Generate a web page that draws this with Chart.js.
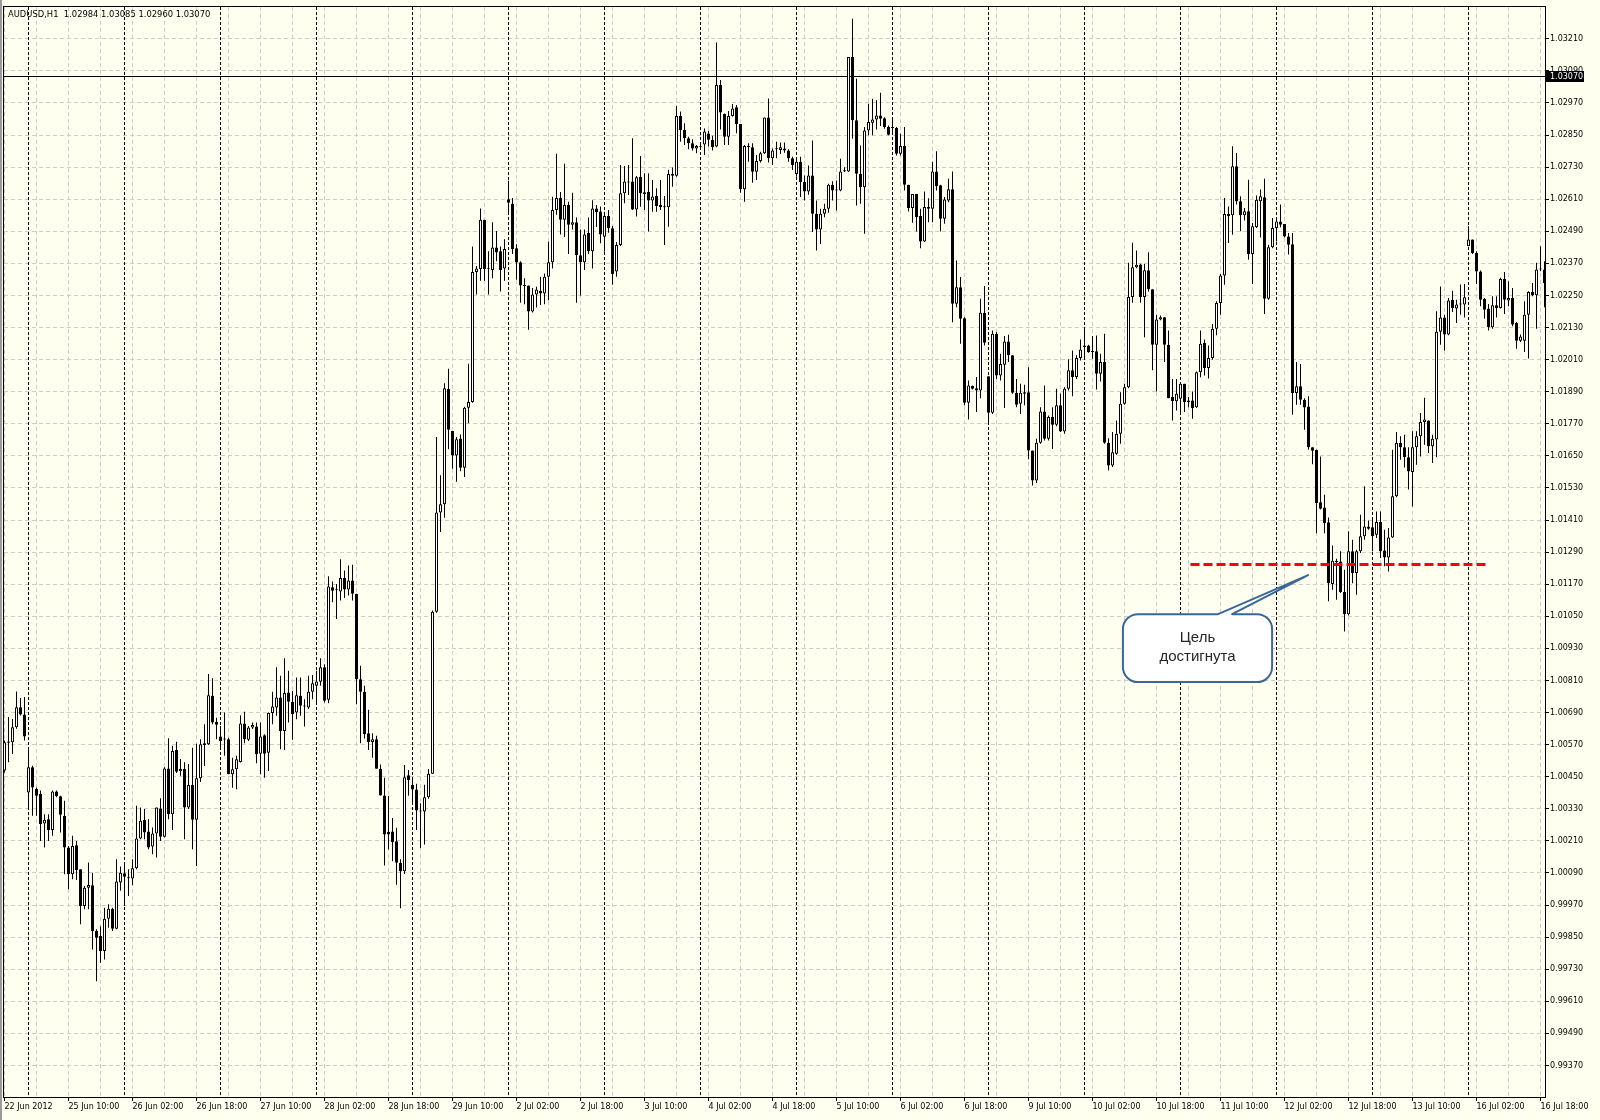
<!DOCTYPE html>
<html>
<head>
<meta charset="utf-8">
<title>AUDUSD,H1</title>
<script src="https://cdn.jsdelivr.net/npm/chart.js@4.4.1/dist/chart.umd.min.js"></script>
<style>
  html, body { margin: 0; padding: 0; background: #fffff0; }
  canvas { display: block; }
</style>
</head>
<body>
<canvas id="chart" width="1600" height="1120"></canvas>
<script>
// AUDUSD H1 bars, 22 Jun 2012 18:00 .. 16 Jul 2012 19:00
var opens = [
  1.00473, 1.00577, 1.00579, 1.00635, 1.00710, 1.00683, 1.00391, 1.00485, 1.00404, 1.00385,
  1.00275, 1.00291, 1.00251, 1.00395, 1.00377, 1.00304, 1.00185, 1.00085, 1.00194, 1.00104,
  0.99966, 1.00035, 1.00044, 0.99873, 0.99854, 0.99798, 0.99919, 0.99956, 0.99881, 1.00054,
  1.00089, 1.00072, 1.00069, 1.00108, 1.00219, 1.00288, 1.00245, 1.00189, 1.00238, 1.00331,
  1.00225, 1.00481, 1.00310, 1.00550, 1.00470, 1.00479, 1.00335, 1.00419, 1.00289, 1.00444,
  1.00569, 1.00571, 1.00753, 1.00655, 1.00600, 1.00590, 1.00590, 1.00459, 1.00478, 1.00505,
  1.00649, 1.00588, 1.00634, 1.00638, 1.00536, 1.00605, 1.00540, 1.00688, 1.00709, 1.00746,
  1.00621, 1.00765, 1.00730, 1.00690, 1.00753, 1.00715, 1.00709, 1.00768, 1.00790, 1.00805,
  1.00859, 1.00738, 1.01159, 1.01149, 1.01143, 1.01193, 1.01150, 1.01184, 1.01134, 1.00815,
  1.00768, 1.00613, 1.00580, 1.00590, 1.00480, 1.00380, 1.00243, 1.00245, 1.00209, 1.00128,
  1.00096, 1.00455, 1.00419, 1.00402, 1.00324, 1.00320, 1.00373, 1.00461, 1.01067, 1.01438,
  1.01469, 1.01900, 1.01743, 1.01651, 1.01715, 1.01606, 1.01830, 1.01852, 1.02338, 1.02349,
  1.02533, 1.02351, 1.02345, 1.02429, 1.02415, 1.02351, 1.02610, 1.02593, 1.02427, 1.02374,
  1.02287, 1.02287, 1.02190, 1.02254, 1.02268, 1.02257, 1.02320, 1.02374, 1.02570, 1.02615,
  1.02533, 1.02588, 1.02515, 1.02524, 1.02400, 1.02374, 1.02484, 1.02415, 1.02575, 1.02564,
  1.02470, 1.02547, 1.02501, 1.02340, 1.02439, 1.02632, 1.02673, 1.02676, 1.02572, 1.02694,
  1.02636, 1.02638, 1.02605, 1.02622, 1.02589, 1.02580, 1.02580, 1.02704, 1.02698, 1.02921,
  1.02869, 1.02838, 1.02819, 1.02800, 1.02805, 1.02815, 1.02856, 1.02832, 1.02807, 1.03037,
  1.02929, 1.02844, 1.02921, 1.02954, 1.02891, 1.02647, 1.02809, 1.02804, 1.02713, 1.02753,
  1.02782, 1.02916, 1.02763, 1.02797, 1.02794, 1.02800, 1.02792, 1.02763, 1.02704, 1.02750,
  1.02674, 1.02639, 1.02699, 1.02556, 1.02497, 1.02556, 1.02574, 1.02664, 1.02643, 1.02643,
  1.02714, 1.02714, 1.03142, 1.02905, 1.02705, 1.02655, 1.02867, 1.02896, 1.02908, 1.02923,
  1.02913, 1.02880, 1.02876, 1.02876, 1.02780, 1.02809, 1.02664, 1.02577, 1.02630, 1.02547,
  1.02452, 1.02581, 1.02574, 1.02714, 1.02662, 1.02537, 1.02605, 1.02647, 1.02219, 1.02281,
  1.02165, 1.01849, 1.01911, 1.01903, 1.01895, 1.02185, 1.01948, 1.01811, 1.02107, 1.01951,
  1.01991, 1.02078, 1.02026, 1.01886, 1.01845, 1.01888, 1.01888, 1.01670, 1.01558, 1.01699,
  1.01816, 1.01714, 1.01795, 1.01766, 1.01839, 1.01741, 1.01901, 1.01970, 1.01945, 1.02016,
  1.02063, 1.02063, 1.02042, 1.02041, 1.01957, 1.02001, 1.01699, 1.01614, 1.01658, 1.01733,
  1.01845, 1.01907, 1.02244, 1.02356, 1.02366, 1.02244, 1.02344, 1.02273, 1.02066, 1.02160,
  1.02169, 1.02066, 1.01870, 1.01854, 1.01864, 1.01920, 1.01851, 1.01857, 1.01832, 1.01963,
  1.02072, 1.01979, 1.02016, 1.02126, 1.02222, 1.02325, 1.02555, 1.02550, 1.02733, 1.02602,
  1.02550, 1.02565, 1.02405, 1.02505, 1.02602, 1.02617, 1.02238, 1.02430, 1.02502, 1.02527,
  1.02517, 1.02471, 1.02442, 1.01885, 1.01910, 1.01860, 1.01835, 1.01682, 1.01673, 1.01477,
  1.01457, 1.01402, 1.01171, 1.01258, 1.01255, 1.01141, 1.01058, 1.01293, 1.01212, 1.01293,
  1.01349, 1.01386, 1.01383, 1.01355, 1.01403, 1.01296, 1.01270, 1.01345, 1.01499, 1.01698,
  1.01682, 1.01645, 1.01590, 1.01682, 1.01723, 1.01777, 1.01782, 1.01686, 1.01711, 1.02114,
  1.02168, 1.02104, 1.02234, 1.02201, 1.02216, 1.02216, 1.02434, 1.02459, 1.02409, 1.02340,
  1.02237, 1.02201, 1.02131, 1.02213, 1.02203, 1.02312, 1.02231, 1.02241, 1.02147, 1.02081,
  1.02081, 1.02178, 1.02263, 1.02251, 1.02347, 1.02347
];
var highs = [
  1.00585, 1.00673, 1.00666, 1.00769, 1.00744, 1.00748, 1.00560, 1.00491, 1.00410, 1.00398,
  1.00310, 1.00310, 1.00398, 1.00398, 1.00379, 1.00360, 1.00191, 1.00229, 1.00210, 1.00104,
  1.00041, 1.00129, 1.00091, 0.99879, 0.99891, 0.99960, 0.99973, 0.99960, 1.00141, 1.00114,
  1.00129, 1.00104, 1.00141, 1.00341, 1.00335, 1.00329, 1.00291, 1.00260, 1.00335, 1.00369,
  1.00485, 1.00594, 1.00566, 1.00581, 1.00516, 1.00504, 1.00498, 1.00558, 1.00573, 1.00590,
  1.00646, 1.00834, 1.00818, 1.00671, 1.00640, 1.00690, 1.00596, 1.00521, 1.00528, 1.00680,
  1.00693, 1.00640, 1.00653, 1.00653, 1.00653, 1.00609, 1.00690, 1.00768, 1.00859, 1.00828,
  1.00893, 1.00846, 1.00771, 1.00821, 1.00821, 1.00740, 1.00828, 1.00830, 1.00846, 1.00893,
  1.00871, 1.01200, 1.01180, 1.01171, 1.01263, 1.01221, 1.01240, 1.01243, 1.01134, 1.00865,
  1.00790, 1.00700, 1.00613, 1.00603, 1.00496, 1.00446, 1.00378, 1.00296, 1.00259, 1.00141,
  1.00494, 1.00475, 1.00443, 1.00424, 1.00351, 1.00420, 1.00479, 1.01072, 1.01721, 1.01578,
  1.01922, 1.01976, 1.01743, 1.01721, 1.01730, 1.01834, 1.01995, 1.02433, 1.02360, 1.02575,
  1.02533, 1.02415, 1.02524, 1.02491, 1.02433, 1.02460, 1.02679, 1.02615, 1.02442, 1.02378,
  1.02314, 1.02287, 1.02278, 1.02283, 1.02320, 1.02332, 1.02451, 1.02619, 1.02780, 1.02637,
  1.02743, 1.02601, 1.02634, 1.02542, 1.02497, 1.02497, 1.02542, 1.02606, 1.02588, 1.02583,
  1.02563, 1.02570, 1.02510, 1.02450, 1.02738, 1.02734, 1.02738, 1.02838, 1.02697, 1.02772,
  1.02707, 1.02707, 1.02682, 1.02651, 1.02682, 1.02622, 1.02720, 1.02729, 1.02959, 1.02938,
  1.02894, 1.02844, 1.02834, 1.02813, 1.02819, 1.02875, 1.02866, 1.02847, 1.03196, 1.03056,
  1.02931, 1.02940, 1.02966, 1.02962, 1.02891, 1.02813, 1.02819, 1.02819, 1.02775, 1.02788,
  1.02916, 1.02987, 1.02800, 1.02825, 1.02822, 1.02822, 1.02797, 1.02769, 1.02757, 1.02769,
  1.02699, 1.02736, 1.02830, 1.02605, 1.02574, 1.02593, 1.02668, 1.02677, 1.02680, 1.02761,
  1.02730, 1.03142, 1.03285, 1.03061, 1.02811, 1.02880, 1.02967, 1.02986, 1.02980, 1.03008,
  1.02917, 1.02886, 1.02917, 1.02880, 1.02855, 1.02880, 1.02664, 1.02630, 1.02630, 1.02574,
  1.02639, 1.02614, 1.02749, 1.02789, 1.02664, 1.02618, 1.02687, 1.02714, 1.02381, 1.02319,
  1.02169, 1.01932, 1.01913, 1.01945, 1.02238, 1.02285, 1.01948, 1.02119, 1.02113, 1.02032,
  1.02098, 1.02103, 1.02026, 1.01938, 1.01920, 1.01916, 1.01982, 1.01670, 1.01714, 1.01832,
  1.01913, 1.01801, 1.01832, 1.01901, 1.01882, 1.01907, 1.02011, 1.02044, 1.02026, 1.02085,
  1.02125, 1.02066, 1.02098, 1.02100, 1.02032, 1.02107, 1.01716, 1.01739, 1.01782, 1.01888,
  1.01920, 1.02372, 1.02447, 1.02418, 1.02369, 1.02369, 1.02412, 1.02273, 1.02178, 1.02175,
  1.02169, 1.02119, 1.01938, 1.01938, 1.01926, 1.01920, 1.01870, 1.01891, 1.01966, 1.02119,
  1.02085, 1.02063, 1.02143, 1.02228, 1.02330, 1.02615, 1.02583, 1.02808, 1.02783, 1.02621,
  1.02577, 1.02683, 1.02521, 1.02624, 1.02646, 1.02687, 1.02440, 1.02540, 1.02533, 1.02590,
  1.02517, 1.02484, 1.02484, 1.02001, 1.01994, 1.01866, 1.01873, 1.01682, 1.01673, 1.01648,
  1.01505, 1.01420, 1.01315, 1.01265, 1.01293, 1.01224, 1.01368, 1.01336, 1.01299, 1.01430,
  1.01536, 1.01408, 1.01418, 1.01442, 1.01442, 1.01374, 1.01380, 1.01673, 1.01739, 1.01723,
  1.01729, 1.01682, 1.01742, 1.01742, 1.01810, 1.01867, 1.01782, 1.01729, 1.02191, 1.02284,
  1.02178, 1.02241, 1.02268, 1.02234, 1.02291, 1.02293, 1.02509, 1.02459, 1.02415, 1.02343,
  1.02241, 1.02218, 1.02247, 1.02247, 1.02316, 1.02338, 1.02303, 1.02278, 1.02151, 1.02104,
  1.02228, 1.02266, 1.02297, 1.02372, 1.02434, 1.02378
];
var lows = [
  1.00466, 1.00504, 1.00535, 1.00629, 1.00679, 1.00585, 1.00335, 1.00304, 1.00304, 1.00210,
  1.00185, 1.00210, 1.00229, 1.00373, 1.00241, 1.00085, 1.00029, 1.00066, 1.00064, 0.99898,
  0.99954, 0.99954, 0.99804, 0.99685, 0.99754, 0.99766, 0.99885, 0.99873, 0.99879, 1.00023,
  0.99966, 1.00004, 1.00044, 1.00104, 1.00216, 1.00216, 1.00179, 1.00160, 1.00148, 1.00210,
  1.00223, 1.00291, 1.00251, 1.00464, 1.00454, 1.00216, 1.00329, 1.00179, 1.00116, 1.00430,
  1.00490, 1.00569, 1.00646, 1.00590, 1.00553, 1.00528, 1.00459, 1.00409, 1.00403, 1.00503,
  1.00575, 1.00584, 1.00628, 1.00500, 1.00459, 1.00446, 1.00471, 1.00646, 1.00678, 1.00553,
  1.00550, 1.00653, 1.00588, 1.00665, 1.00678, 1.00638, 1.00703, 1.00740, 1.00728, 1.00790,
  1.00728, 1.00725, 1.01103, 1.01040, 1.01109, 1.01118, 1.01128, 1.01109, 1.00721, 1.00575,
  1.00593, 1.00550, 1.00521, 1.00480, 1.00380, 1.00118, 1.00178, 1.00134, 1.00046, 0.99958,
  1.00086, 1.00379, 1.00351, 1.00251, 1.00183, 1.00196, 1.00368, 1.00461, 1.01063, 1.01365,
  1.01419, 1.01675, 1.01602, 1.01553, 1.01593, 1.01571, 1.01772, 1.01849, 1.02254, 1.02305,
  1.02305, 1.02254, 1.02314, 1.02378, 1.02265, 1.02305, 1.02552, 1.02405, 1.02309, 1.02223,
  1.02217, 1.02122, 1.02186, 1.02205, 1.02214, 1.02217, 1.02232, 1.02351, 1.02552, 1.02478,
  1.02469, 1.02405, 1.02497, 1.02223, 1.02250, 1.02345, 1.02405, 1.02351, 1.02506, 1.02445,
  1.02414, 1.02485, 1.02290, 1.02320, 1.02435, 1.02595, 1.02626, 1.02570, 1.02545, 1.02582,
  1.02570, 1.02489, 1.02563, 1.02563, 1.02570, 1.02439, 1.02507, 1.02657, 1.02694, 1.02825,
  1.02813, 1.02797, 1.02792, 1.02782, 1.02794, 1.02775, 1.02807, 1.02792, 1.02804, 1.02871,
  1.02813, 1.02813, 1.02919, 1.02857, 1.02634, 1.02601, 1.02750, 1.02672, 1.02682, 1.02747,
  1.02779, 1.02747, 1.02738, 1.02763, 1.02779, 1.02784, 1.02750, 1.02719, 1.02694, 1.02618,
  1.02605, 1.02627, 1.02487, 1.02418, 1.02443, 1.02543, 1.02559, 1.02605, 1.02568, 1.02640,
  1.02712, 1.02712, 1.02836, 1.02587, 1.02593, 1.02481, 1.02849, 1.02849, 1.02871, 1.02884,
  1.02874, 1.02849, 1.02861, 1.02774, 1.02774, 1.02643, 1.02564, 1.02522, 1.02489, 1.02427,
  1.02450, 1.02524, 1.02524, 1.02643, 1.02489, 1.02518, 1.02599, 1.02150, 1.02206, 1.02069,
  1.01839, 1.01786, 1.01898, 1.01814, 1.01866, 1.02063, 1.01776, 1.01807, 1.01938, 1.01932,
  1.01829, 1.02001, 1.01882, 1.01832, 1.01807, 1.01839, 1.01637, 1.01539, 1.01549, 1.01695,
  1.01708, 1.01708, 1.01676, 1.01761, 1.01739, 1.01733, 1.01895, 1.01873, 1.01938, 1.02007,
  1.02019, 1.02036, 1.02013, 1.01898, 1.01928, 1.01695, 1.01595, 1.01608, 1.01654, 1.01695,
  1.01841, 1.01903, 1.02223, 1.02352, 1.02223, 1.02094, 1.02265, 1.01970, 1.01891, 1.02157,
  1.02001, 1.01866, 1.01782, 1.01820, 1.01804, 1.01814, 1.01832, 1.01789, 1.01829, 1.01944,
  1.01951, 1.01939, 1.02010, 1.02101, 1.02178, 1.02290, 1.02446, 1.02477, 1.02590, 1.02490,
  1.02530, 1.02384, 1.02293, 1.02502, 1.02467, 1.02181, 1.02234, 1.02427, 1.02452, 1.02505,
  1.02467, 1.02403, 1.01804, 1.01841, 1.01841, 1.01748, 1.01673, 1.01619, 1.01361, 1.01449,
  1.01361, 1.01106, 1.01149, 1.01112, 1.01137, 1.00993, 1.01053, 1.01174, 1.01131, 1.01287,
  1.01336, 1.01374, 1.01293, 1.01343, 1.01268, 1.01237, 1.01218, 1.01343, 1.01495, 1.01636,
  1.01607, 1.01524, 1.01461, 1.01617, 1.01648, 1.01692, 1.01661, 1.01623, 1.01645, 1.02066,
  1.02044, 1.02101, 1.02188, 1.02147, 1.02178, 1.02168, 1.02434, 1.02405, 1.02293, 1.02210,
  1.02163, 1.02119, 1.02126, 1.02168, 1.02201, 1.02181, 1.02210, 1.02135, 1.02051, 1.02076,
  1.02039, 1.02014, 1.02247, 1.02126, 1.02341, 1.02206
];
var closes = [
  1.00579, 1.00582, 1.00635, 1.00710, 1.00683, 1.00600, 1.00485, 1.00410, 1.00379, 1.00273,
  1.00289, 1.00251, 1.00395, 1.00377, 1.00308, 1.00185, 1.00085, 1.00191, 1.00101, 0.99966,
  1.00035, 1.00045, 0.99873, 0.99848, 0.99798, 0.99919, 0.99956, 0.99881, 1.00058, 1.00091,
  1.00076, 1.00070, 1.00108, 1.00219, 1.00285, 1.00241, 1.00185, 1.00238, 1.00335, 1.00225,
  1.00481, 1.00310, 1.00546, 1.00469, 1.00479, 1.00335, 1.00419, 1.00289, 1.00444, 1.00571,
  1.00575, 1.00755, 1.00653, 1.00644, 1.00584, 1.00589, 1.00459, 1.00478, 1.00515, 1.00649,
  1.00590, 1.00634, 1.00643, 1.00534, 1.00600, 1.00536, 1.00688, 1.00713, 1.00746, 1.00621,
  1.00763, 1.00730, 1.00684, 1.00755, 1.00715, 1.00713, 1.00768, 1.00800, 1.00806, 1.00859,
  1.00734, 1.01161, 1.01146, 1.01149, 1.01193, 1.01150, 1.01184, 1.01134, 1.00815, 1.00768,
  1.00609, 1.00580, 1.00590, 1.00480, 1.00380, 1.00234, 1.00234, 1.00205, 1.00128, 1.00096,
  1.00448, 1.00437, 1.00402, 1.00324, 1.00320, 1.00373, 1.00461, 1.01067, 1.01438, 1.01469,
  1.01903, 1.01748, 1.01651, 1.01712, 1.01606, 1.01830, 1.01852, 1.02338, 1.02351, 1.02533,
  1.02349, 1.02350, 1.02429, 1.02411, 1.02345, 1.02424, 1.02597, 1.02424, 1.02373, 1.02287,
  1.02285, 1.02190, 1.02254, 1.02272, 1.02257, 1.02320, 1.02374, 1.02570, 1.02615, 1.02533,
  1.02588, 1.02515, 1.02524, 1.02400, 1.02374, 1.02478, 1.02415, 1.02575, 1.02561, 1.02478,
  1.02547, 1.02501, 1.02330, 1.02439, 1.02632, 1.02676, 1.02673, 1.02572, 1.02692, 1.02632,
  1.02630, 1.02605, 1.02620, 1.02585, 1.02580, 1.02580, 1.02704, 1.02698, 1.02921, 1.02869,
  1.02838, 1.02819, 1.02800, 1.02809, 1.02804, 1.02863, 1.02832, 1.02804, 1.03037, 1.02934,
  1.02844, 1.02921, 1.02949, 1.02891, 1.02647, 1.02809, 1.02804, 1.02713, 1.02753, 1.02782,
  1.02916, 1.02763, 1.02792, 1.02797, 1.02804, 1.02792, 1.02763, 1.02738, 1.02750, 1.02674,
  1.02639, 1.02699, 1.02556, 1.02497, 1.02556, 1.02574, 1.02664, 1.02643, 1.02643, 1.02714,
  1.02718, 1.03142, 1.02905, 1.02705, 1.02655, 1.02867, 1.02899, 1.02908, 1.02923, 1.02911,
  1.02880, 1.02851, 1.02876, 1.02780, 1.02809, 1.02664, 1.02577, 1.02630, 1.02543, 1.02452,
  1.02581, 1.02574, 1.02714, 1.02659, 1.02537, 1.02609, 1.02647, 1.02219, 1.02281, 1.02163,
  1.01849, 1.01913, 1.01901, 1.01895, 1.02185, 1.02073, 1.01811, 1.02107, 1.01951, 1.01994,
  1.02078, 1.02026, 1.01886, 1.01841, 1.01886, 1.01882, 1.01670, 1.01558, 1.01699, 1.01816,
  1.01714, 1.01795, 1.01766, 1.01839, 1.01741, 1.01901, 1.01970, 1.01945, 1.02016, 1.02048,
  1.02057, 1.02038, 1.02038, 1.01957, 1.02001, 1.01699, 1.01614, 1.01664, 1.01733, 1.01845,
  1.01907, 1.02244, 1.02356, 1.02365, 1.02244, 1.02344, 1.02273, 1.02066, 1.02160, 1.02169,
  1.02066, 1.01866, 1.01854, 1.01882, 1.01920, 1.01851, 1.01857, 1.01829, 1.01963, 1.02069,
  1.01979, 1.02016, 1.02126, 1.02222, 1.02325, 1.02555, 1.02546, 1.02733, 1.02602, 1.02550,
  1.02565, 1.02405, 1.02509, 1.02608, 1.02621, 1.02238, 1.02430, 1.02502, 1.02527, 1.02515,
  1.02471, 1.02440, 1.01885, 1.01910, 1.01860, 1.01831, 1.01682, 1.01669, 1.01474, 1.01452,
  1.01399, 1.01174, 1.01258, 1.01253, 1.01141, 1.01058, 1.01293, 1.01212, 1.01293, 1.01349,
  1.01386, 1.01377, 1.01349, 1.01403, 1.01293, 1.01270, 1.01345, 1.01499, 1.01698, 1.01682,
  1.01645, 1.01592, 1.01682, 1.01723, 1.01777, 1.01786, 1.01686, 1.01714, 1.02114, 1.02168,
  1.02104, 1.02231, 1.02203, 1.02216, 1.02216, 1.02243, 1.02459, 1.02409, 1.02340, 1.02234,
  1.02197, 1.02131, 1.02213, 1.02203, 1.02312, 1.02234, 1.02241, 1.02141, 1.02081, 1.02097,
  1.02178, 1.02263, 1.02251, 1.02347, 1.02347, 1.02297
];

// one time label every 16 bars, starting at bar 0
var timeLabels = [
  '22 Jun 2012', '25 Jun 10:00', '26 Jun 02:00', '26 Jun 18:00', '27 Jun 10:00',
  '28 Jun 02:00', '28 Jun 18:00', '29 Jun 10:00', '2 Jul 02:00', '2 Jul 18:00',
  '3 Jul 10:00', '4 Jul 02:00', '4 Jul 18:00', '5 Jul 10:00', '6 Jul 02:00',
  '6 Jul 18:00', '9 Jul 10:00', '10 Jul 02:00', '10 Jul 18:00', '11 Jul 10:00',
  '12 Jul 02:00', '12 Jul 18:00', '13 Jul 10:00', '16 Jul 02:00', '16 Jul 18:00'
];
var priceTicks = [
  0.99370, 0.99490, 0.99610, 0.99730, 0.99850, 0.99970, 1.00090, 1.00210, 1.00330,
  1.00450, 1.00570, 1.00690, 1.00810, 1.00930, 1.01050, 1.01170, 1.01290, 1.01410,
  1.01530, 1.01650, 1.01770, 1.01890, 1.02010, 1.02130, 1.02250, 1.02370, 1.02490,
  1.02610, 1.02730, 1.02850, 1.02970, 1.03090, 1.03210
];
// first bar of every trading day
var daySeparators = [6, 30, 54, 78, 102, 126, 150, 174, 198, 222, 246, 270, 294, 318, 342, 366];

var bidPrice = 1.03070;
var targetPrice = 1.01244;
var targetFrom = 296.5;
var targetTo = 370.4;
var headerText = 'AUDUSD,H1  1.02984 1.03085 1.02960 1.03070';

// callout, in bar / price units
var note = {
  lines: ['Цель', 'достигнута'],
  left: 279.6, right: 316.9, top: 1.01058, bottom: 1.00804,
  baseA: 303.4, baseB: 306.9, tipBar: 325.9, tipPrice: 1.01204
};

var bgColor = '#fffff0';
var gridColor = '#cdcdcd';

window.addEventListener('load', function() {

    Chart.defaults.font.family = "'DejaVu Sans', sans-serif";
    Chart.defaults.font.size = 8;
    Chart.defaults.color = '#000000';

    var bodies = [], wicks = [], bodyColors = [];
    for (var i = 0; i < closes.length; i++) {
        bodies.push({x: i, y: [opens[i], closes[i]]});
        wicks.push({x: i, y: [lows[i], highs[i]]});
        bodyColors.push(closes[i] >= opens[i] ? '#ffffff' : '#000000');
    }

    var gridBars = [];
    for (var b = 0; b < closes.length; b += 8) gridBars.push({value: b});

    function calloutPath(ctx, l, t, r, btm, rad, ax, bx, tx, ty) {
        ctx.beginPath();
        ctx.moveTo(l + rad, t);
        ctx.lineTo(ax, t);
        ctx.lineTo(tx, ty);
        ctx.lineTo(bx, t);
        ctx.lineTo(r - rad, t);
        ctx.arcTo(r, t, r, t + rad, rad);
        ctx.lineTo(r, btm - rad);
        ctx.arcTo(r, btm, r - rad, btm, rad);
        ctx.lineTo(l + rad, btm);
        ctx.arcTo(l, btm, l, btm - rad, rad);
        ctx.lineTo(l, t + rad);
        ctx.arcTo(l, t, l + rad, t, rad);
        ctx.closePath();
    }

    var mt4 = {
        id: 'mt4',
        beforeDraw: function(chart) {
            var ctx = chart.ctx;
            ctx.save();
            ctx.fillStyle = bgColor;
            ctx.fillRect(0, 0, chart.width, chart.height);
            ctx.fillStyle = '#9a9a9a';
            ctx.fillRect(0, 0, 2, chart.height);
            ctx.restore();
        },
        beforeDatasetsDraw: function(chart) {
            var ctx = chart.ctx, a = chart.chartArea;
            var xs = chart.scales.x, ys = chart.scales.y;
            ctx.save();
            ctx.strokeStyle = '#000000';
            ctx.lineWidth = 1;
            ctx.setLineDash([3, 2]);
            daySeparators.forEach(function(d) {
                var x = Math.round(xs.getPixelForValue(d) - 0.5) + 0.5;
                ctx.beginPath();
                ctx.moveTo(x, a.top);
                ctx.lineTo(x, a.bottom);
                ctx.stroke();
            });
            ctx.setLineDash([]);
            var y = Math.round(ys.getPixelForValue(bidPrice) - 0.5) + 0.5;
            ctx.beginPath();
            ctx.moveTo(a.left, y);
            ctx.lineTo(a.right, y);
            ctx.stroke();
            ctx.restore();
        },
        afterDatasetsDraw: function(chart) {
            var ctx = chart.ctx;
            var xs = chart.scales.x, ys = chart.scales.y;
            var l = xs.getPixelForValue(note.left), r = xs.getPixelForValue(note.right);
            var t = ys.getPixelForValue(note.top), btm = ys.getPixelForValue(note.bottom);
            ctx.save();
            calloutPath(ctx, l, t, r, btm, 15,
                xs.getPixelForValue(note.baseA), xs.getPixelForValue(note.baseB),
                xs.getPixelForValue(note.tipBar), ys.getPixelForValue(note.tipPrice));
            ctx.fillStyle = '#ffffff';
            ctx.fill();
            ctx.strokeStyle = '#3b6796';
            ctx.lineWidth = 2;
            ctx.lineJoin = 'round';
            ctx.stroke();
            ctx.fillStyle = '#262626';
            ctx.font = "15px 'Liberation Sans', Arial, sans-serif";
            ctx.textAlign = 'center';
            ctx.textBaseline = 'middle';
            var cx = (l + r) / 2, cy = (t + btm) / 2;
            ctx.fillText(note.lines[0], cx, cy - 10);
            ctx.fillText(note.lines[1], cx, cy + 9);
            ctx.restore();
        },
        afterDraw: function(chart) {
            var ctx = chart.ctx, a = chart.chartArea;
            var ys = chart.scales.y;
            ctx.save();
            ctx.strokeStyle = '#000000';
            ctx.lineWidth = 1;
            ctx.strokeRect(a.left - 0.5, a.top - 0.5, a.right - a.left + 1, a.bottom - a.top + 1);

            ctx.font = "8.4px 'DejaVu Sans', sans-serif";
            ctx.fillStyle = '#000000';
            ctx.textBaseline = 'alphabetic';
            ctx.textAlign = 'left';
            ctx.fillText(headerText, 8, 16.5);

            var y = Math.round(ys.getPixelForValue(bidPrice));
            ctx.font = "8px 'DejaVu Sans', sans-serif";
            ctx.fillStyle = '#000000';
            ctx.fillRect(a.right + 1, y - 5, 38, 11);
            ctx.fillStyle = '#ffffff';
            ctx.textBaseline = 'middle';
            ctx.fillText(bidPrice.toFixed(5), a.right + 5, y + 0.5);
            ctx.restore();
        }
    };

    new Chart(document.getElementById('chart'), {
        type: 'bar',
        data: {
            datasets: [{
                type: 'line',
                data: [{x: targetFrom, y: targetPrice}, {x: targetTo, y: targetPrice}],
                borderColor: '#ff0000',
                borderWidth: 3,
                borderDash: [9, 4],
                borderCapStyle: 'butt',
                pointRadius: 0,
                order: 0
            }, {
                data: bodies,
                backgroundColor: bodyColors,
                borderColor: '#000000',
                borderWidth: 1,
                borderSkipped: false,
                barThickness: 3,
                minBarLength: 1,
                grouped: false,
                inflateAmount: 0,
                order: 1
            }, {
                data: wicks,
                backgroundColor: '#000000',
                borderWidth: 0,
                barThickness: 1,
                grouped: false,
                inflateAmount: 0,
                order: 2
            }]
        },
        options: {
            responsive: false,
            animation: false,
            devicePixelRatio: 1,
            events: [],
            layout: { padding: { left: 4, top: 7, right: 0, bottom: 0 } },
            plugins: {
                legend: { display: false },
                tooltip: { enabled: false }
            },
            scales: {
                x: {
                    type: 'linear',
                    offset: false,
                    bounds: 'data',
                    min: -0.125,
                    max: 385.125,
                    afterBuildTicks: function(scale) { scale.ticks = gridBars.slice(); },
                    afterFit: function(scale) { scale.height = 23; },
                    grid: {
                        offset: false,
                        color: gridColor,
                        tickLength: 4,
                        tickBorderDash: [],
                        tickColor: function(c) {
                            return c.tick && c.tick.value % 16 === 0 ? '#000000' : 'rgba(0,0,0,0)';
                        }
                    },
                    border: { display: false, dash: [4, 3] },
                    ticks: {
                        autoSkip: false,
                        maxRotation: 0,
                        align: 'start',
                        padding: 1,
                        callback: function(v) { return v % 16 === 0 ? timeLabels[v / 16] : ''; }
                    }
                },
                y: {
                    position: 'right',
                    min: 0.99252,
                    max: 1.03329,
                    afterBuildTicks: function(scale) {
                        scale.ticks = priceTicks.map(function(p) { return {value: p}; });
                    },
                    afterFit: function(scale) { scale.width = 55; },
                    grid: { color: gridColor, tickLength: 4, tickColor: '#000000', tickBorderDash: [] },
                    border: { display: false, dash: [4, 3] },
                    ticks: {
                        autoSkip: false,
                        padding: 1,
                        callback: function(v) { return v.toFixed(5); }
                    }
                }
            }
        },
        plugins: [mt4]
    });
});
</script>
</body>
</html>
